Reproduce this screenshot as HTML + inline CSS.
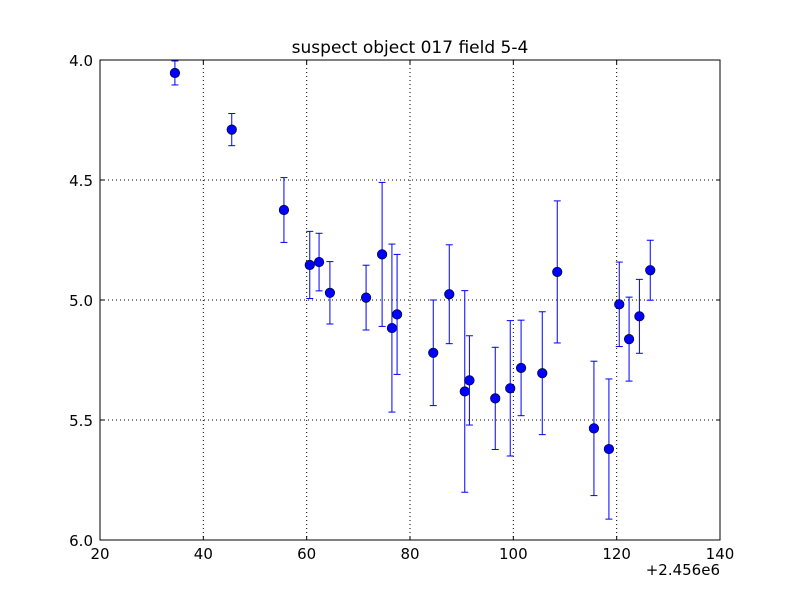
<!DOCTYPE html>
<html><head><meta charset="utf-8"><style>
body{margin:0;background:#fff;}
svg{display:block;font-family:"DejaVu Sans","Liberation Sans",sans-serif;}
</style></head><body>
<svg id="chart" width="800" height="600">
<rect width="800" height="600" fill="#fff"/>
<text x="410" y="53" font-size="17" text-anchor="middle">suspect object 017 field 5-4</text>
<g id="grid"></g>
<g id="marks"></g>
<rect x="100" y="60" width="620" height="480" fill="none" stroke="#000" stroke-width="1"/>
<g id="ticks"></g>
<text x="720" y="575" font-size="15" text-anchor="end">+2.456e6</text>
</svg>
<script>
const xValues=[34.5,45.5,55.6,60.6,62.4,64.5,71.5,74.6,76.5,77.5,84.5,87.6,90.6,91.5,96.5,99.4,101.5,105.6,108.5,115.6,118.5,120.5,122.4,124.4,126.5];
const yValues=[4.054,4.29,4.625,4.854,4.842,4.97,4.99,4.81,5.117,5.06,5.22,4.976,5.381,5.335,5.41,5.368,5.283,5.305,4.883,5.535,5.621,5.018,5.163,5.068,4.876];
const yErrors=[0.05,0.067,0.135,0.14,0.12,0.13,0.135,0.30,0.35,0.25,0.22,0.206,0.42,0.186,0.213,0.282,0.199,0.256,0.296,0.28,0.292,0.176,0.175,0.154,0.125];
const xTicks=[20,40,60,80,100,120,140];
const yTicks=[4.0,4.5,5.0,5.5,6.0];
const NS="http://www.w3.org/2000/svg";
const X0=100,X1=720,Y0=60,Y1=540,xmin=20,xmax=140,ymin=4,ymax=6;
function sx(v){return X0+(v-xmin)/(xmax-xmin)*(X1-X0);}
function sy(v){return Y0+(v-ymin)/(ymax-ymin)*(Y1-Y0);}
function mk(tag,attrs,parent){const e=document.createElementNS(NS,tag);for(const k in attrs)e.setAttribute(k,attrs[k]);parent.appendChild(e);return e;}
const grid=document.getElementById('grid'),ticks=document.getElementById('ticks'),marks=document.getElementById('marks');
xTicks.forEach(t=>{const x=sx(t);
 const g=mk('line',{x1:x,x2:x,y1:Y0,y2:Y1,stroke:'#000','stroke-dasharray':'1,3','stroke-width':1},grid);
 
 
 mk('line',{x1:x,x2:x,y1:Y1,y2:Y1-4,stroke:'#000'},ticks);
 mk('line',{x1:x,x2:x,y1:Y0,y2:Y0+4,stroke:'#000'},ticks);
 const l=mk('text',{x:x,y:Y1+19,'font-size':15,'text-anchor':'middle'},ticks);
 l.textContent=t;
 
 
});
yTicks.forEach(t=>{const y=sy(t);
 const g=mk('line',{x1:X0,x2:X1,y1:y,y2:y,stroke:'#000','stroke-dasharray':'1,3','stroke-width':1},grid);
 
 
 mk('line',{x1:X0,x2:X0+4,y1:y,y2:y,stroke:'#000'},ticks);
 mk('line',{x1:X1,x2:X1-4,y1:y,y2:y,stroke:'#000'},ticks);
 const l=mk('text',{x:X0-7,y:y+6,'font-size':15,'text-anchor':'end'},ticks);
 l.textContent=t.toFixed(1);
 
 
});
xValues.forEach((v,i)=>{const x=sx(v),y=sy(yValues[i]),t=sy(yValues[i]-yErrors[i]),b=sy(yValues[i]+yErrors[i]);
 const g=mk('g',{},marks);
 
 
 mk('line',{x1:x,x2:x,y1:t,y2:b,stroke:'#0000ff','stroke-width':1},g);
 mk('line',{x1:x-3.5,x2:x+3.5,y1:t,y2:t,stroke:'#0000ff','stroke-width':1},g);
 mk('line',{x1:x-3.5,x2:x+3.5,y1:b,y2:b,stroke:'#0000ff','stroke-width':1},g);
 mk('circle',{cx:x,cy:y,r:4.8,fill:'#0000ff',stroke:'#000','stroke-width':0.6},g);
});
</script>
</body></html>
